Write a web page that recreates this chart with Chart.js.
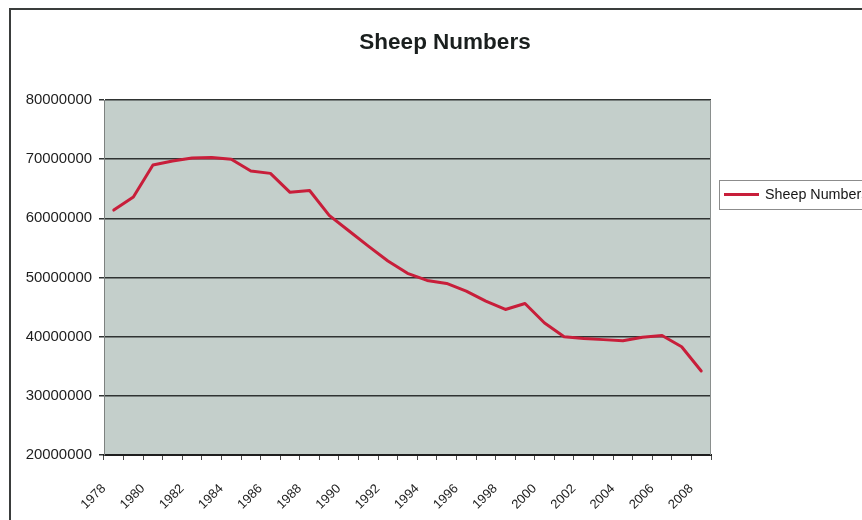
<!DOCTYPE html>
<html>
<head>
<meta charset="utf-8">
<script src="https://cdn.jsdelivr.net/npm/chart.js@4.4.1/dist/chart.umd.min.js"></script>
<style>
  html, body { margin: 0; padding: 0; background: #ffffff; overflow: hidden; }
  #wrap { width: 862px; height: 520px; position: relative; }
</style>
</head>
<body>
<div id="wrap"><canvas id="chart" width="862" height="520"></canvas></div>
<script>
// Annual sheep numbers
const years = [
  '1978','1979','1980','1981','1982','1983','1984','1985','1986','1987',
  '1988','1989','1990','1991','1992','1993','1994','1995','1996','1997',
  '1998','1999','2000','2001','2002','2003','2004','2005','2006','2007','2008'
];
const sheepNumbers = [
  61400000, 63600000, 69000000, 69700000, 70200000, 70300000, 70000000, 68000000, 67600000, 64400000,
  64700000, 60500000, 57900000, 55300000, 52800000, 50700000, 49500000, 49000000, 47700000, 46000000,
  44600000, 45600000, 42300000, 40000000, 39700000, 39500000, 39300000, 39900000, 40200000, 38300000,
  34200000
];
const yAxisTicks = [20000000, 30000000, 40000000, 50000000, 60000000, 70000000, 80000000];
const seriesName = 'Sheep Numbers';
const chartTitle = 'Sheep Numbers';

const FONT = '"Liberation Sans", Arial, sans-serif';
const PLOT_BG = '#c4cfcb';
const LINE_RED = '#c81e3a';

// Plot background, outer frame, right plot edge and the boxed legend
const decorations = {
  id: 'decorations',
  beforeDraw(chart) {
    const { ctx, chartArea: a } = chart;
    ctx.save();
    ctx.fillStyle = '#ffffff';
    ctx.fillRect(0, 0, chart.width, chart.height);
    ctx.fillStyle = PLOT_BG;
    ctx.fillRect(a.left, a.top, a.right - a.left, a.bottom - a.top);
    ctx.restore();
  },
  afterDraw(chart) {
    const { ctx, chartArea: a } = chart;
    ctx.save();
    // frame around the whole chart
    ctx.strokeStyle = '#3a3d3c';
    ctx.lineWidth = 2;
    ctx.beginPath();
    ctx.moveTo(10, chart.height + 2);
    ctx.lineTo(10, 9);
    ctx.lineTo(chart.width + 2, 9);
    ctx.stroke();
    // right edge of the plot
    ctx.strokeStyle = '#8a8f8d';
    ctx.lineWidth = 1;
    ctx.beginPath();
    ctx.moveTo(Math.round(a.right) - 0.5, a.top);
    ctx.lineTo(Math.round(a.right) - 0.5, a.bottom);
    ctx.stroke();
    // legend
    const ds = chart.data.datasets[0];
    const lx = 719, ly = 180, lh = 29;
    ctx.fillStyle = '#ffffff';
    ctx.fillRect(lx, ly, chart.width - lx + 5, lh);
    ctx.strokeStyle = '#8c8c8c';
    ctx.lineWidth = 1;
    ctx.strokeRect(lx + 0.5, ly + 0.5, chart.width - lx + 5, lh);
    ctx.strokeStyle = ds.borderColor;
    ctx.lineWidth = 3;
    ctx.beginPath();
    ctx.moveTo(724, ly + lh / 2);
    ctx.lineTo(759, ly + lh / 2);
    ctx.stroke();
    ctx.fillStyle = '#161616';
    ctx.font = '14.3px ' + FONT;
    ctx.textBaseline = 'middle';
    ctx.textAlign = 'left';
    ctx.fillText(ds.label, 765, ly + lh / 2 + 0.5);
    ctx.restore();
  }
};

new Chart(document.getElementById('chart'), {
  type: 'line',
  data: {
    labels: years,
    datasets: [{
      label: seriesName,
      data: sheepNumbers,
      borderColor: LINE_RED,
      borderWidth: 3,
      borderJoinStyle: 'round',
      borderCapStyle: 'round',
      tension: 0,
      pointRadius: 0,
      fill: false
    }]
  },
  options: {
    responsive: false,
    animation: false,
    devicePixelRatio: 1,
    layout: { padding: { left: 22, right: -6, top: 0, bottom: 0 } },
    plugins: {
      legend: { display: false },
      tooltip: { enabled: false },
      title: {
        display: true,
        text: chartTitle,
        color: '#1a1f1e',
        font: { family: FONT, size: 22.5, weight: 'bold', lineHeight: 1.2 },
        padding: { top: 29.5, bottom: 43.5 }
      }
    },
    scales: {
      x: {
        type: 'category',
        offset: true,
        grid: {
          display: true,
          offset: true,
          drawOnChartArea: false,
          drawTicks: true,
          tickLength: 5,
          color: '#4a4a4a',
          lineWidth: 1
        },
        border: { display: true, color: '#1e1e1e', width: 2 },
        ticks: {
          autoSkip: false,
          minRotation: 45,
          maxRotation: 45,
          padding: 21,
          labelOffset: -10,
          color: '#1e1e1e',
          font: { family: FONT, size: 13 },
          callback(value, index) { return index % 2 === 0 ? this.getLabelForValue(value) : ''; }
        },
        afterFit(scale) { scale.height = 65; }
      },
      y: {
        type: 'linear',
        position: 'left',
        min: 20000000,
        max: 80000000,
        grid: {
          color: '#2f3332',
          lineWidth: 1.5,
          drawTicks: true,
          tickLength: 5
        },
        border: { display: true, color: '#7d8280', width: 1 },
        ticks: {
          padding: 7,
          color: '#1e1e1e',
          font: { family: FONT, size: 14.9 },
          callback(value) { return String(value); }
        },
        afterBuildTicks(scale) { scale.ticks = yAxisTicks.map(v => ({ value: v })); },
        afterFit(scale) { scale.width = 82; }
      },
      legendSpace: {
        type: 'linear',
        position: 'right',
        display: true,
        grid: { display: false, drawTicks: false },
        border: { display: false },
        ticks: { display: false },
        afterFit(scale) { scale.width = 157; }
      }
    }
  },
  plugins: [decorations]
});
</script>
</body>
</html>
